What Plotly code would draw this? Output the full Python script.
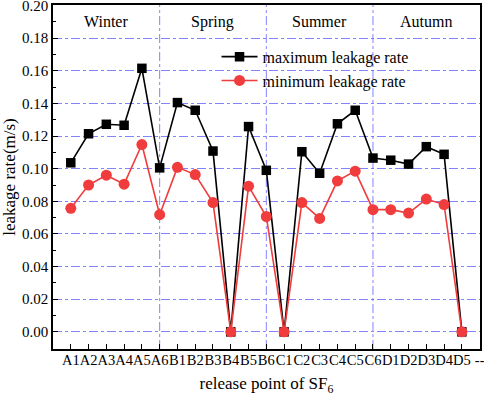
import plotly.graph_objects as go

categories = ["A1","A2","A3","A4","A5","A6","B1","B2","B3","B4","B5","B6",
              "C1","C2","C3","C4","C5","C6","D1","D2","D3","D4","D5","--"]
max_rate = [0.1036,0.1214,0.1272,0.1266,0.1615,0.1005,0.1405,0.1358,0.1108,0.0,0.1258,0.0990,
            0.0,0.1104,0.0972,0.1275,0.1358,0.1065,0.1052,0.1028,0.1135,0.1088,0.0]
min_rate = [0.0757,0.0900,0.0960,0.0905,0.1148,0.0718,0.1008,0.0964,0.0792,0.0,0.0893,0.0707,
            0.0,0.0792,0.0695,0.0925,0.0985,0.0749,0.0749,0.0728,0.0814,0.0780,0.0]
seasons = ["Winter","Spring","Summer","Autumn"]
season_centers = [2, 8, 14, 20]
dividers = ["A6","B6","C6"]
y_ticks = [0.00,0.02,0.04,0.06,0.08,0.10,0.12,0.14,0.16,0.18,0.20]

FONT = "Liberation Serif, Times New Roman, serif"
grid_col = "rgba(90,90,255,0.75)"

fig = go.Figure()
fig.add_trace(go.Scatter(x=categories[:len(max_rate)], y=max_rate, mode="lines+markers",
                         name="maximum leakage rate",
                         line=dict(color="black", width=1.6),
                         marker=dict(symbol="square", size=9.5, color="black")))
fig.add_trace(go.Scatter(x=categories[:len(min_rate)], y=min_rate, mode="lines+markers",
                         name="minimum leakage rate",
                         line=dict(color="#f03c3c", width=1.6),
                         marker=dict(symbol="circle", size=11, color="#f03c3c")))

for d in dividers:
    fig.add_shape(type="line", xref="x", yref="paper", x0=d, x1=d, y0=0, y1=1,
                  line=dict(color=grid_col, width=1, dash="dashdot"), layer="below")

for s, c in zip(seasons, season_centers):
    fig.add_annotation(x=c, y=0.19, xref="x", yref="y", text=s, showarrow=False,
                       font=dict(family=FONT, size=16, color="black"))

fig.update_layout(
    width=484, height=396,
    margin=dict(l=53, r=4, t=5, b=47),
    paper_bgcolor="white", plot_bgcolor="white",
    font=dict(family=FONT, size=15, color="black"),
    showlegend=True,
    legend=dict(x=0.383, y=0.899, xanchor="left", yanchor="top",
                bgcolor="rgba(0,0,0,0)", font=dict(family=FONT, size=16),
                tracegroupgap=0, itemwidth=36),
)
fig.update_xaxes(type="category", categoryorder="array", categoryarray=categories,
                 tickmode="array", tickvals=categories, ticktext=categories, tickangle=0,
                 range=[-1, 23.02], showgrid=False, zeroline=False, automargin=False,
                 ticklabeloverflow="allow", ticklabelstandoff=-3,
                 showline=True, mirror=True, linecolor="black", linewidth=1.5,
                 ticks="inside", ticklen=5, tickcolor="black", tickwidth=1.2,
                 tickfont=dict(family=FONT, size=14.5),
                 title=dict(text="release point of SF<sub>6</sub>", font=dict(family=FONT, size=17), standoff=10))
fig.update_yaxes(range=[-0.0105, 0.2003], tickmode="array", tickvals=y_ticks, tickformat=".2f",
                 showgrid=True, gridcolor=grid_col, griddash="dashdot", gridwidth=1,
                 zeroline=False, showline=True, mirror=True, linecolor="black", linewidth=1.5,
                 ticks="inside", ticklen=5, tickcolor="black", tickwidth=1.2, automargin=False,
                 ticklabeloverflow="allow",
                 minor=dict(dtick=0.01, tick0=0, ticks="inside", ticklen=3, tickcolor="black", showgrid=False),
                 tickfont=dict(family=FONT, size=15),
                 title=dict(text="leakage rate(m/s)", font=dict(family=FONT, size=17), standoff=4))

fig.write_html("out.html", config={"displayModeBar": False},
               post_script="document.body.style.margin='0';")
